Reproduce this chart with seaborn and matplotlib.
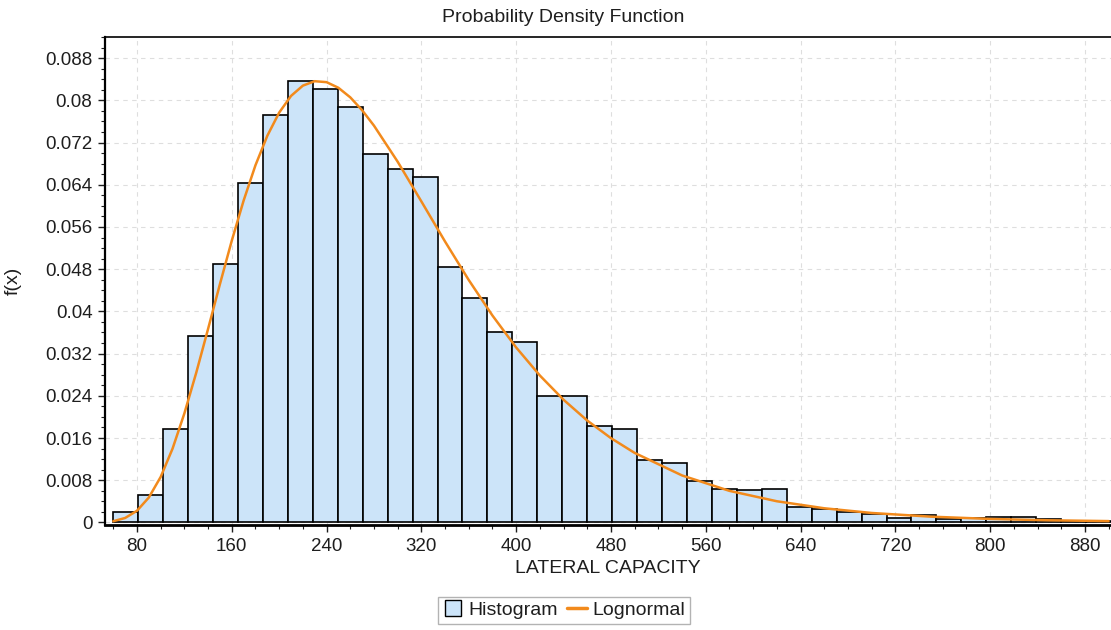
import matplotlib
matplotlib.use("Agg")
import matplotlib.pyplot as plt
from matplotlib.lines import Line2D
from matplotlib.ticker import MultipleLocator, FuncFormatter
import seaborn as sns

# Relative frequency of each histogram bin (40 equal-width bins)
bin_start = 60.0
bin_width = 21.05
bin_heights = [
    0.0019, 0.0052, 0.0178, 0.0354, 0.0490, 0.0643, 0.0772, 0.0837,
    0.0822, 0.0787, 0.0698, 0.0669, 0.0655, 0.0484, 0.0425, 0.0360,
    0.0342, 0.0239, 0.0239, 0.0183, 0.0178, 0.0118, 0.0113, 0.0079,
    0.0063, 0.0061, 0.0063, 0.0030, 0.0025, 0.0019, 0.0016, 0.0009,
    0.0015, 0.0007, 0.0008, 0.0010, 0.0010, 0.0006, 0.0003, 0.0003,
]

# Fitted lognormal curve (scaled to bin width)
curve_x = [60, 70, 80, 90, 100, 110, 120, 130, 140, 150, 160, 170, 180,
           190, 200, 210, 220, 230, 240, 250, 260, 270, 280, 300, 320,
           340, 360, 380, 400, 420, 440, 460, 480, 500, 540, 580, 620,
           660, 700, 750, 800, 850, 900]
curve_y = [0.00024, 0.00085, 0.00222, 0.00473, 0.00863, 0.01398, 0.02067,
           0.02837, 0.03668, 0.04517, 0.05340, 0.06100, 0.06770, 0.07328,
           0.07767, 0.08083, 0.08278, 0.08362, 0.08344, 0.08237, 0.08056,
           0.07812, 0.07520, 0.06836, 0.06084, 0.05323, 0.04594, 0.03921,
           0.03316, 0.02785, 0.02325, 0.01931, 0.01598, 0.01318, 0.00891,
           0.00599, 0.00402, 0.00269, 0.00180, 0.00110, 0.00067, 0.00041,
           0.00026]

hist_label = "Histogram"
curve_label = "Lognormal"
title_text = "Probability Density Function"
x_label = "LATERAL CAPACITY"
y_label = "f(x)"

bin_edges = [bin_start + i * bin_width for i in range(len(bin_heights) + 1)]
bin_centers = [bin_start + (i + 0.5) * bin_width for i in range(len(bin_heights))]

sns.set_style("white")
plt.rcParams["font.family"] = ["Liberation Sans", "DejaVu Sans"]
plt.rcParams["text.color"] = "#1e1e1e"
plt.rcParams["axes.labelcolor"] = "#1e1e1e"
plt.rcParams["xtick.color"] = "#1e1e1e"
plt.rcParams["ytick.color"] = "#1e1e1e"

bar_color = "#cce4f9"
curve_color = "#f28a1c"

fig = plt.figure(figsize=(11.11, 6.30), dpi=100)
ax = fig.add_axes([0.0945, 0.1665, 0.9055, 0.7748])

sns.histplot(x=bin_centers, weights=bin_heights, bins=bin_edges,
             stat="count", color=bar_color, alpha=1.0,
             edgecolor="black", linewidth=1.2, ax=ax, zorder=2)
sns.lineplot(x=curve_x, y=curve_y, color=curve_color, linewidth=1.8,
             ax=ax, zorder=3)

ax.set_xlim(53, 902)
ax.set_ylim(-0.0005, 0.0920)

ax.xaxis.set_major_locator(MultipleLocator(80))
ax.xaxis.set_minor_locator(MultipleLocator(20))
ax.yaxis.set_major_locator(MultipleLocator(0.008))
ax.yaxis.set_minor_locator(MultipleLocator(0.002))
ax.yaxis.set_major_formatter(FuncFormatter(lambda v, p: f"{v:.3f}".rstrip("0").rstrip(".") if abs(v) > 1e-9 else "0"))
ax.xaxis.set_major_formatter(FuncFormatter(lambda v, p: f"{v:.0f}"))

ax.tick_params(axis="both", which="major", length=5, width=1.0,
               labelsize=13.5, direction="out", pad=4,
               bottom=True, left=True)
ax.tick_params(axis="both", which="minor", length=3, width=0.8,
               direction="out", bottom=True, left=True)

ax.grid(True, which="major", color="#dedede", linestyle=(0, (4, 4)),
        linewidth=0.8, zorder=0)
ax.set_axisbelow(True)

for side in ("left", "bottom", "top"):
    ax.spines[side].set_visible(True)
    ax.spines[side].set_color("black")
ax.spines["left"].set_linewidth(1.6)
ax.spines["bottom"].set_linewidth(2.0)
ax.spines["top"].set_linewidth(1.2)
ax.spines["right"].set_visible(False)

ax.set_xlabel(x_label, fontsize=14, labelpad=4)
ax.set_ylabel(y_label, fontsize=14)
ax.yaxis.set_label_coords(-0.0825, 0.5)

fig.text(0.507, 0.973, title_text, ha="center", va="center", fontsize=14)

handles = [
    Line2D([], [], marker="s", markersize=11, markerfacecolor=bar_color,
           markeredgecolor="black", markeredgewidth=1.0, linestyle="none"),
    Line2D([], [], color=curve_color, linewidth=2.5),
]
leg = fig.legend(handles, [hist_label, curve_label], ncol=2,
                 loc="lower center", bbox_to_anchor=(0.5077, -0.006),
                 bbox_transform=fig.transFigure, fontsize=14,
                 frameon=True, fancybox=False, handlelength=1.0,
                 handletextpad=0.3, columnspacing=0.5, borderpad=0.25)
leg.get_frame().set_edgecolor("#a0a0a0")
leg.get_frame().set_linewidth(1.0)

fig.savefig("out.png", dpi=100)
